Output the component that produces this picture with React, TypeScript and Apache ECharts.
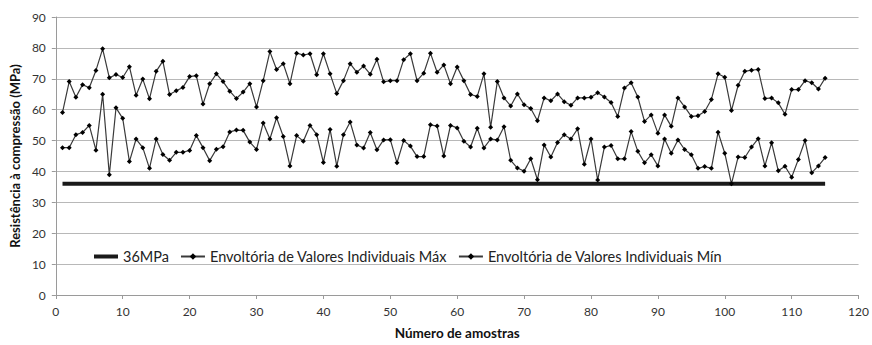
import React, { useEffect, useRef } from "react";
import * as echarts from "echarts";

const maxValues = [
  59.1, 69.1, 64.0, 68.1, 67.1, 72.7, 79.7, 70.3, 71.4, 70.4,
  73.9, 64.7, 69.9, 63.5, 72.4, 75.7, 64.9, 66.1, 67.2, 70.7,
  71.0, 61.8, 68.4, 71.6, 69.1, 66.0, 63.6, 65.7, 68.4, 60.9,
  69.4, 78.8, 73.0, 74.9, 68.4, 78.3, 77.7, 78.1, 71.3, 78.1,
  71.6, 65.2, 69.4, 74.9, 72.1, 74.1, 71.5, 76.3, 69.0, 69.4,
  69.4, 76.2, 78.1, 69.4, 71.8, 78.3, 72.1, 74.5, 68.4, 73.8,
  69.4, 64.9, 64.3, 71.6, 54.3, 69.1, 63.8, 61.2, 65.1, 61.6,
  60.4, 56.4, 63.8, 62.9, 65.1, 62.6, 61.4, 63.8, 63.8, 64.0,
  65.5, 64.1, 62.3, 57.8, 67.0, 68.7, 64.1, 56.2, 58.3, 52.4,
  58.3, 54.6, 63.8, 60.9, 57.8, 58.0, 59.4, 63.3, 71.6, 70.5,
  59.7, 67.9, 72.4, 72.8, 73.0, 63.6, 63.8, 62.2, 58.5, 66.5,
  66.5, 69.4, 68.7, 66.7, 70.2
];

const minValues = [
  47.7, 47.7, 51.9, 52.6, 54.9, 46.9, 65.0, 38.9, 60.6, 57.2,
  43.2, 50.5, 47.7, 41.0, 50.5, 45.5, 43.6, 46.2, 46.2, 46.8,
  51.6, 47.7, 43.5, 47.2, 48.0, 52.8, 53.4, 53.3, 49.5, 47.1,
  55.7, 50.5, 57.4, 51.3, 41.8, 51.6, 49.8, 54.9, 51.9, 42.9,
  53.6, 41.7, 51.9, 56.0, 48.6, 47.6, 52.6, 47.0, 50.2, 50.3,
  42.8, 50.0, 48.2, 44.8, 44.8, 55.1, 54.7, 45.0, 54.9, 54.1,
  49.8, 47.9, 54.0, 47.6, 50.5, 50.2, 54.5, 43.6, 41.1, 40.1,
  44.1, 37.3, 48.6, 44.7, 49.4, 51.9, 50.5, 53.8, 42.3, 50.5,
  37.2, 47.9, 48.4, 44.1, 44.1, 52.9, 46.5, 42.8, 45.4, 41.8,
  50.5, 45.9, 50.2, 47.1, 45.4, 41.0, 41.6, 41.0, 52.7, 45.9,
  36.0, 44.7, 44.5, 47.9, 50.6, 41.8, 49.3, 40.2, 41.7, 38.1,
  43.9, 50.0, 39.6, 41.8, 44.5
];

const limitValue = 36;
const limitRange = [1, 115];

const seriesNames = [
  "36MPa",
  "Envoltória de Valores Individuais Máx",
  "Envoltória de Valores Individuais Mín"
];

const xTitle = "Número de amostras";
const yTitle = "Resistência à compressão (MPa)";

export default function App() {
  const ref = useRef<HTMLDivElement>(null);
  useEffect(() => {
    document.body.style.margin = "0";
    const chart = echarts.init(ref.current!, null, { renderer: "svg" });
    const font = "Lato, 'Liberation Sans', sans-serif";
    const toPairs = (arr: number[]) => arr.map((v, i) => [i + 1, v]);
    chart.setOption({
      animation: false,
      textStyle: { fontFamily: font },
      grid: { left: 54, top: 17, width: 806, height: 283, containLabel: false },
      legend: {
        left: 87,
        top: 244,
        itemGap: 11,
        itemWidth: 24,
        itemHeight: 8,
        textStyle: { fontFamily: font, fontSize: 14.5, color: "#222" },
        data: [
          { name: seriesNames[0], itemStyle: { opacity: 0 }, lineStyle: { width: 4, color: "#1a1a1a" } },
          { name: seriesNames[1] },
          { name: seriesNames[2] }
        ]
      },
      xAxis: {
        type: "value",
        min: 0,
        max: 120,
        interval: 10,
        name: xTitle,
        nameLocation: "middle",
        nameGap: 31,
        nameTextStyle: { fontFamily: font, fontWeight: "bold", fontSize: 13.5, color: "#111" },
        axisLine: { lineStyle: { color: "#9a9a9a", width: 1 } },
        axisTick: { show: true, length: 4, lineStyle: { color: "#9a9a9a" } },
        axisLabel: { color: "#333", fontSize: 12, margin: 10 },
        splitLine: { show: false }
      },
      yAxis: {
        type: "value",
        min: 0,
        max: 90,
        interval: 10,
        name: yTitle,
        nameLocation: "middle",
        nameGap: 29,
        nameTextStyle: { fontFamily: font, fontWeight: "bold", fontSize: 13, color: "#111" },
        axisLine: { show: true, lineStyle: { color: "#9a9a9a", width: 1 } },
        axisTick: { show: true, length: 4, lineStyle: { color: "#9a9a9a" } },
        axisLabel: { color: "#333", fontSize: 12, margin: 10 },
        splitLine: { show: true, lineStyle: { color: "#b8b8b8", width: 1 } }
      },
      series: [
        {
          name: seriesNames[0],
          type: "line",
          data: limitRange.map((x) => [x, limitValue]),
          symbol: "none",
          lineStyle: { color: "#1a1a1a", width: 4 },
          itemStyle: { color: "#1a1a1a" }
        },
        {
          name: seriesNames[1],
          type: "line",
          data: toPairs(maxValues),
          symbol: "diamond",
          symbolSize: 5,
          lineStyle: { color: "#3a3a3a", width: 1.2 },
          itemStyle: { color: "#000" }
        },
        {
          name: seriesNames[2],
          type: "line",
          data: toPairs(minValues),
          symbol: "diamond",
          symbolSize: 5,
          lineStyle: { color: "#3a3a3a", width: 1.2 },
          itemStyle: { color: "#000" }
        }
      ]
    });
    return () => chart.dispose();
  }, []);
  return <div ref={ref} style={{ width: 872, height: 345 }} />;
}
